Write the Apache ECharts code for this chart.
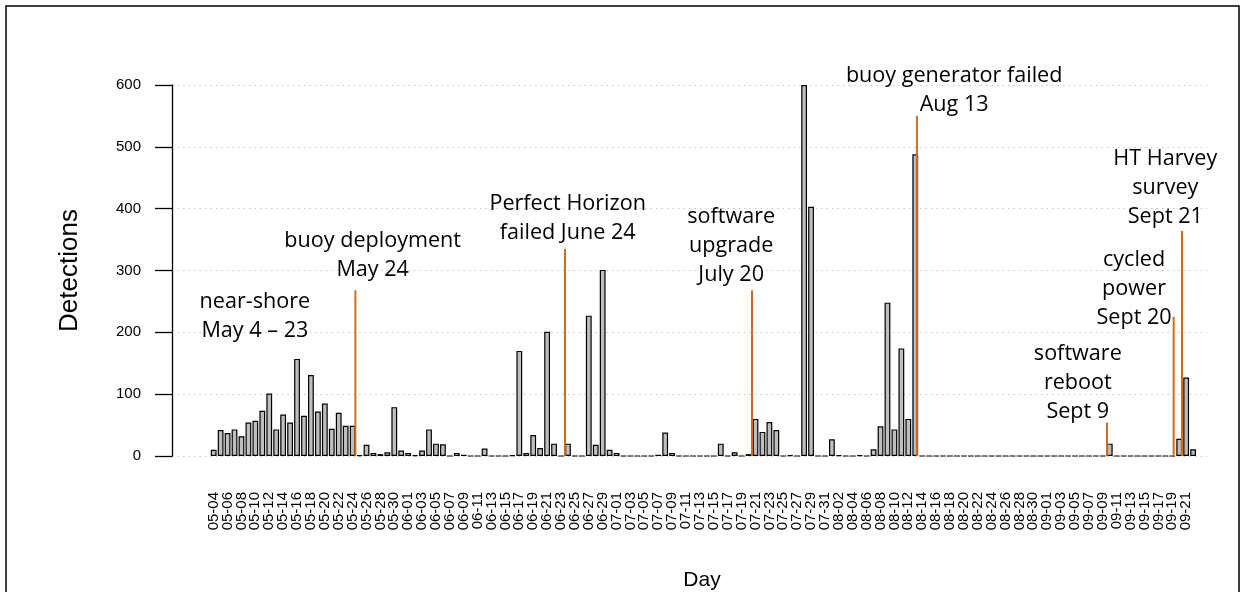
<!DOCTYPE html>
<html><head><meta charset="utf-8">
<script src="https://cdn.jsdelivr.net/npm/echarts@6/dist/echarts.min.js"></script>
<style>html,body{margin:0;padding:0;background:#fff}#c{width:1244px;height:592px}</style>
</head><body><div id="c"></div>
<script>
// Day labels (May 4 - Sept 22)
const monthSpans = [[5, 4, 31], [6, 1, 30], [7, 1, 31], [8, 1, 31], [9, 1, 22]];
const days = [];
monthSpans.forEach(function (s) {
  for (let d = s[1]; d <= s[2]; d++) days.push(String(s[0]).padStart(2, '0') + '-' + String(d).padStart(2, '0'));
});

// Daily detections
const detections = [
  10, 42, 37, 43, 32, 54, 57, 73, 101, 43,
  67, 54, 157, 65, 131, 72, 85, 44, 70, 49,
  49, 1, 18, 5, 3, 6, 79, 9, 5, 1,
  9, 43, 20, 19, 0, 5, 2, 0, 0, 12,
  0, 0, 0, 1, 170, 5, 34, 13, 201, 20,
  0, 20, 0, 0, 227, 18, 301, 10, 5, 0,
  0, 0, 0, 0, 2, 38, 5, 0, 0, 0,
  0, 0, 0, 20, 0, 6, 0, 3, 60, 39,
  55, 42, 0, 1, 0, 600, 403, 0, 0, 27,
  1, 0, 0, 1, 0, 11, 48, 248, 43, 174,
  60, 488, 0, 0, 0, 0, 0, 0, 0, 0,
  0, 0, 0, 0, 0, 0, 0, 0, 0, 0,
  0, 0, 0, 0, 0, 0, 0, 0, 0, 20,
  0, 0, 0, 0, 0, 0, 0, 0, 0, 28,
  127, 11
];

// Event markers (position in day-index units, top of line in detections)
const eventX = [20.4, 50.57, 77.5, 101.24, 128.6, 138.2, 139.4];
const eventTop = [268, 335, 268, 550, 54, 225, 364];

// Annotation texts and their anchor positions (day index, detections)
const noteText = [
  'near-shore\nMay 4 \u2013 23',
  'buoy deployment\nMay 24',
  'Perfect Horizon\nfailed June 24',
  'software\nupgrade\nJuly 20',
  'buoy generator failed\nAug 13',
  'HT Harvey\nsurvey\nSept 21',
  'cycled\npower\nSept 20',
  'software\nreboot\nSept 9'
];
const noteX = [5.93, 22.89, 50.96, 74.5, 106.6, 137.0, 132.5, 124.4];
const noteY = [226, 325, 384, 340, 592, 433, 270, 119];

const yTicks = { min: 0, max: 600, step: 100 };

const chart = echarts.init(document.getElementById('c'), null, { renderer: 'canvas' });
const sans = '"Liberation Sans", Arial, Helvetica, sans-serif';
const noteFont = '21.6px "Open Sans", "Noto Sans", sans-serif';

chart.setOption({
  animation: false,
  backgroundColor: '#ffffff',
  textStyle: { fontFamily: sans, color: '#000' },
  title: {
    text: 'Day', left: 697, top: 565, textAlign: 'center',
    textStyle: { fontFamily: sans, fontSize: 21, fontWeight: 'normal', color: '#000' }
  },
  graphic: [{
    type: 'rect', silent: true,
    shape: { x: 6, y: 6, width: 1233, height: 640 },
    style: { fill: 'none', stroke: '#000', lineWidth: 1.5 }
  }],
  grid: { left: 172, right: 37, top: 85, bottom: 136, containLabel: false },
  xAxis: {
    type: 'value', min: -6, max: 143, interval: 2,
    axisLine: { show: false, onZero: false }, axisTick: { show: false }, splitLine: { show: false },
    axisLabel: {
      rotate: 90, margin: 36, fontSize: 15, fontFamily: sans, color: '#000',
      showMinLabel: true, showMaxLabel: true,
      formatter: function (v) { return (v >= 0 && v < days.length && v % 2 === 0) ? days[v] : ''; }
    }
  },
  yAxis: {
    type: 'value', min: yTicks.min, max: yTicks.max, interval: yTicks.step,
    name: 'Detections', nameLocation: 'middle', nameGap: 89,
    nameTextStyle: { fontFamily: sans, fontSize: 26, color: '#000' },
    axisLine: { show: true, onZero: false, lineStyle: { color: '#000', width: 1.3 } },
    axisTick: { show: true, length: 17, lineStyle: { color: '#000', width: 1.3 } },
    axisLabel: { margin: 31, fontSize: 15, fontFamily: sans, color: '#000' },
    splitLine: { show: true, lineStyle: { color: '#c8c8c8', type: [1.5, 4], width: 1.2 } }
  },
  series: [
    {
      type: 'bar', name: 'Detections', barWidth: 5.8,
      data: detections.map(function (v, i) { return [i, v]; }),
      itemStyle: { color: '#bebebe', borderColor: '#000', borderWidth: 1.2 },
      z: 2
    },
    {
      type: 'custom', name: 'events', z: 5,
      data: eventX.map(function (x, i) { return [x, eventTop[i]]; }),
      renderItem: function (params, api) {
        const p0 = api.coord([api.value(0), 0]);
        const p1 = api.coord([api.value(0), api.value(1)]);
        return { type: 'line', shape: { x1: p0[0], y1: p0[1], x2: p1[0], y2: p1[1] },
          style: { stroke: '#d2691e', lineWidth: 2 } };
      }
    },
    {
      type: 'custom', name: 'notes', z: 6, clip: false,
      data: noteX.map(function (x, i) { return [x, noteY[i]]; }),
      renderItem: function (params, api) {
        const p = api.coord([api.value(0), api.value(1)]);
        return { type: 'text', x: p[0], y: p[1],
          style: { text: noteText[params.dataIndex], font: noteFont, fill: '#000',
            align: 'center', verticalAlign: 'middle', lineHeight: 29 } };
      }
    }
  ]
});
</script></body></html>
